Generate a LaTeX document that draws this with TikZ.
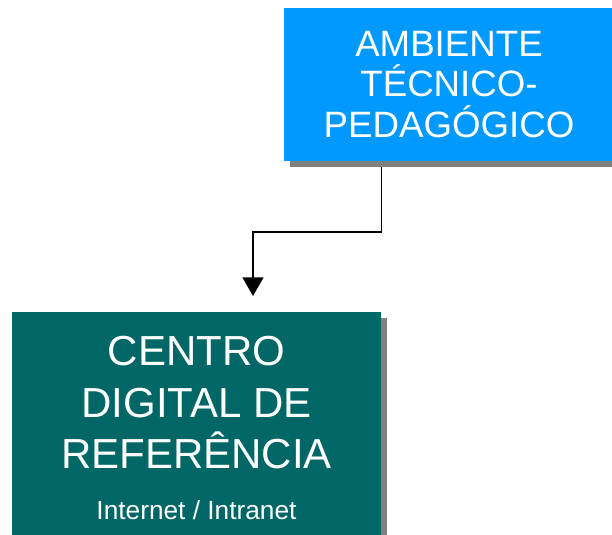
\documentclass[tikz,border=0pt]{standalone}
\usepackage{fontspec}
\setmainfont{Liberation Sans}
\usetikzlibrary{shapes}
\usetikzlibrary{arrows.meta}
\usetikzlibrary{shadows}

\definecolor{azulamb}{RGB}{0,153,255}
\definecolor{verdecdr}{RGB}{0,102,102}
\definecolor{sombracinza}{RGB}{128,128,128}

\begin{document}
\begin{tikzpicture}[x=0.75pt,y=-0.75pt,
						caixa/.style={rectangle,inner sep=0pt,text=white,align=center,
							drop shadow={shadow xshift=4.5pt,shadow yshift=-4.5pt,fill=sombracinza,opacity=1}},
						seta/.style={-{Triangle[width=15.75pt,length=14pt]},line width=1.1pt}
						]
						\useasboundingbox (0,0) rectangle (612,535);
						\clip (0,0) rectangle (612,535);
						\node[caixa,fill=azulamb,minimum width=247.5pt,minimum height=114.75pt,
							font=\fontsize{27.5}{30.4}\selectfont](amb) at (449,84.5)
							{AMBIENTE\\TÉCNICO-\\PEDAGÓGICO};
						\node[caixa,fill=verdecdr,minimum width=276.75pt,minimum height=173.25pt,
							font=\fontsize{31.5}{38.3}\selectfont](centro) at (196.5,428)
							{CENTRO\\DIGITAL DE\\REFERÊNCIA\\{\fontsize{19.7}{38.3}\selectfont Internet / Intranet}};
						\coordinate (dobra) at (253,232);
						\coordinate (ponta) at (253,296);
						\draw[seta] ([yshift=-4.5pt]amb.south -| centro.east) |- (dobra) -- (ponta);
						\end{tikzpicture}
\end{document}
